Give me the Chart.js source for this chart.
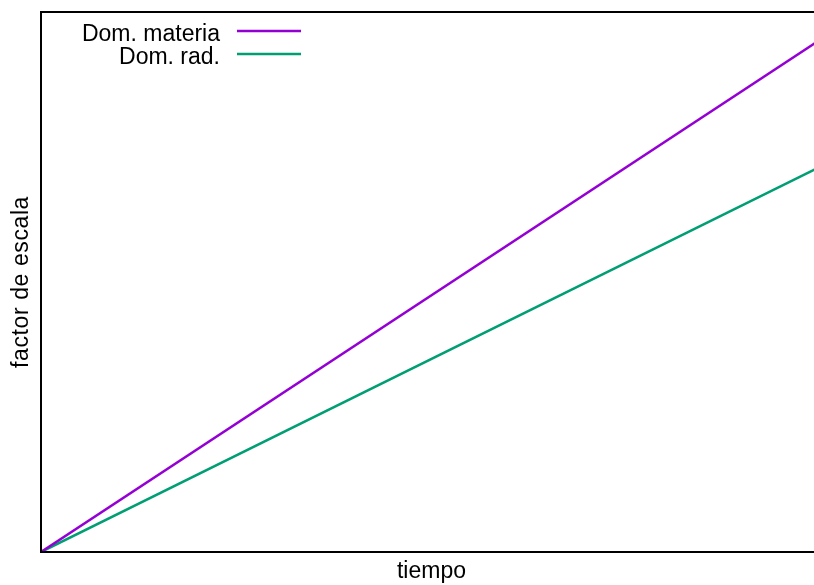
<!DOCTYPE html>
<html>
<head>
<meta charset="utf-8">
<script src="https://cdn.jsdelivr.net/npm/chart.js@4.4.1/dist/chart.umd.min.js"></script>
<style>
  html, body { margin: 0; padding: 0; background: #fff; overflow: hidden; }
  #wrap { width: 822px; height: 585px; }
</style>
</head>
<body>
<div id="wrap"><canvas id="c" width="822" height="585"></canvas></div>
<script>
// Scale factor vs. time (both axes unlabeled, relative units)
const tiempo = [0, 1];
const domMateria = [0, 0.951];
const domRad = [0, 0.715];
const seriesNames = ['Dom. materia', 'Dom. rad.'];
const seriesColors = ['#9400d3', '#009e73'];
const xTitle = 'tiempo';
const yTitle = 'factor de escala';

const FONT = 'Liberation Sans, Arial, Helvetica, sans-serif';
const FONT_SIZE = 23;

// Frame on top, left and bottom of the plotting area
const framePlugin = {
  id: 'frame',
  afterDraw(chart) {
    const { ctx, chartArea: a } = chart;
    ctx.save();
    ctx.strokeStyle = '#000';
    ctx.lineWidth = 2;
    ctx.beginPath();
    ctx.moveTo(a.right, a.top);
    ctx.lineTo(a.left, a.top);
    ctx.lineTo(a.left, a.bottom);
    ctx.lineTo(a.right, a.bottom);
    ctx.lineTo(a.right, a.top);
    ctx.stroke();
    ctx.restore();
  }
};

// Rotated y-axis caption, slightly letter-spaced
const yTitlePlugin = {
  id: 'yTitle',
  afterDraw(chart) {
    const { ctx, chartArea: a } = chart;
    ctx.save();
    ctx.font = FONT_SIZE + 'px ' + FONT;
    if ('letterSpacing' in ctx) ctx.letterSpacing = '0.6px';
    ctx.fillStyle = '#000';
    ctx.textAlign = 'center';
    ctx.textBaseline = 'middle';
    ctx.translate(22, (a.top + a.bottom) / 2);
    ctx.rotate(-Math.PI / 2);
    ctx.fillText(yTitle, 0, 0);
    ctx.restore();
  }
};

// Key in the top-left corner: right-aligned label followed by a line sample
const keyPlugin = {
  id: 'key',
  afterDraw(chart) {
    const { ctx, chartArea: a } = chart;
    ctx.save();
    ctx.font = FONT_SIZE + 'px ' + FONT;
    ctx.textAlign = 'right';
    ctx.textBaseline = 'alphabetic';
    chart.data.datasets.forEach((ds, i) => {
      const y = a.top + 19 + i * 23;
      ctx.fillStyle = '#000';
      ctx.fillText(ds.label, a.left + 179, y + 9.5);
      ctx.strokeStyle = ds.borderColor;
      ctx.lineWidth = 2.5;
      ctx.beginPath();
      ctx.moveTo(a.left + 196, y);
      ctx.lineTo(a.left + 260, y);
      ctx.stroke();
    });
    ctx.restore();
  }
};

new Chart(document.getElementById('c'), {
  type: 'line',
  data: {
    datasets: [
      {
        label: seriesNames[0],
        data: tiempo.map((t, i) => ({ x: t, y: domMateria[i] })),
        borderColor: seriesColors[0],
        borderWidth: 2.5,
        pointRadius: 0,
        fill: false,
        tension: 0
      },
      {
        label: seriesNames[1],
        data: tiempo.map((t, i) => ({ x: t, y: domRad[i] })),
        borderColor: seriesColors[1],
        borderWidth: 2.5,
        pointRadius: 0,
        fill: false,
        tension: 0
      }
    ]
  },
  plugins: [framePlugin, yTitlePlugin, keyPlugin],
  options: {
    responsive: false,
    animation: false,
    layout: { padding: { top: 12, right: 0, left: 0, bottom: 0 } },
    plugins: { legend: { display: false }, tooltip: { enabled: false } },
    scales: {
      x: {
        type: 'linear',
        min: 0, max: 1,
        grid: { display: false },
        border: { display: false },
        ticks: { display: false },
        title: { display: true, text: xTitle, color: '#000', font: { family: FONT, size: FONT_SIZE }, padding: { top: 0, bottom: 0 } },
        afterFit(s) { s.height = 33; }
      },
      y: {
        type: 'linear',
        min: 0, max: 1,
        grid: { display: false },
        border: { display: false },
        ticks: { display: false },
        title: { display: false },
        afterFit(s) { s.width = 41; }
      }
    }
  }
});
</script>
</body>
</html>
